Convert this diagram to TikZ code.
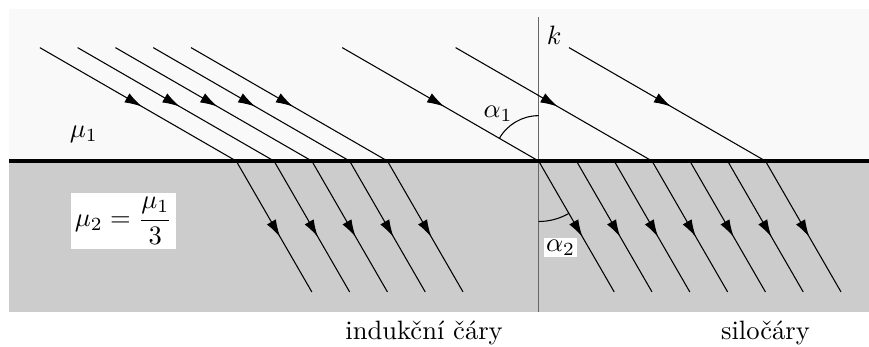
\documentclass[tikz,border=0pt]{standalone}
\usepackage{amsmath}
\usepackage{tikz}
\usetikzlibrary{arrows.meta,decorations.markings}

\begin{document}
\begin{tikzpicture}[x=0.5cm, y=0.5cm,
  field/.style={thin, postaction={decorate}, decoration={markings, mark=at position #1 with {\arrow{Latex[length=6.5pt,width=3.9pt]}}}},
  lab/.style={inner sep=1pt}
]
\useasboundingbox (-14.25,-4.92) rectangle (8.74,4.26);
\fill[gray!5] (-14.01,0) rectangle (8.74,4.02);
\fill[gray!40] (-14.01,-4) rectangle (8.74,0);
\coordinate (O) at (0,0);
\draw[black!60] (0,3.81) -- (0,-4);
% indukcni cary
\draw[field=0.52] (-13.196,3) -- (-8,0);
\draw[field=0.52] (-12.196,3) -- (-7,0);
\draw[field=0.52] (-11.196,3) -- (-6,0);
\draw[field=0.52] (-10.196,3) -- (-5,0);
\draw[field=0.52] (-9.196,3) -- (-4,0);
\draw[field=0.58] (-8,0) -- (-6,-3.464);
\draw[field=0.58] (-7,0) -- (-5,-3.464);
\draw[field=0.58] (-6,0) -- (-4,-3.464);
\draw[field=0.58] (-5,0) -- (-3,-3.464);
\draw[field=0.58] (-4,0) -- (-2,-3.464);
% silocary
\draw[field=0.52] (-5.196,3) -- (O);
\draw[field=0.52] (-2.196,3) -- (3,0);
\draw[field=0.52] (0.804,3) -- (6,0);
\draw[field=0.58] (O) -- (2,-3.464);
\draw[field=0.58] (1,0) -- (3,-3.464);
\draw[field=0.58] (2,0) -- (4,-3.464);
\draw[field=0.58] (3,0) -- (5,-3.464);
\draw[field=0.58] (4,0) -- (6,-3.464);
\draw[field=0.58] (5,0) -- (7,-3.464);
\draw[field=0.58] (6,0) -- (8,-3.464);
% uhly
\draw (0,1.2) arc[start angle=90, end angle=150, radius=1.2];
\draw (0,-1.6) arc[start angle=270, end angle=300, radius=1.6];
\draw[line width=1.2pt] (-14.01,0) -- (8.74,0);
\node[lab] (a1) at (-1.07,1.26) {$\alpha_1$};
\node[lab, fill=white, inner sep=0.7pt] (a2) at (0.58,-2.29) {$\alpha_2$};
\node[lab] (k) at (0.41,3.33) {$k$};
\node[lab, anchor=base] (mu1) at (-12.03,0.63) {$\mu_1$};
\node[fill=white, inner sep=1.5pt] (mu2) at (-10.98,-1.59) {$\mu_2 = \dfrac{\mu_1}{3}$};
\node[anchor=base] (ind) at (-3.03,-4.72) {indukční čáry};
\node[anchor=base] (sil) at (6.0,-4.72) {siločáry};
\end{tikzpicture}
\end{document}
